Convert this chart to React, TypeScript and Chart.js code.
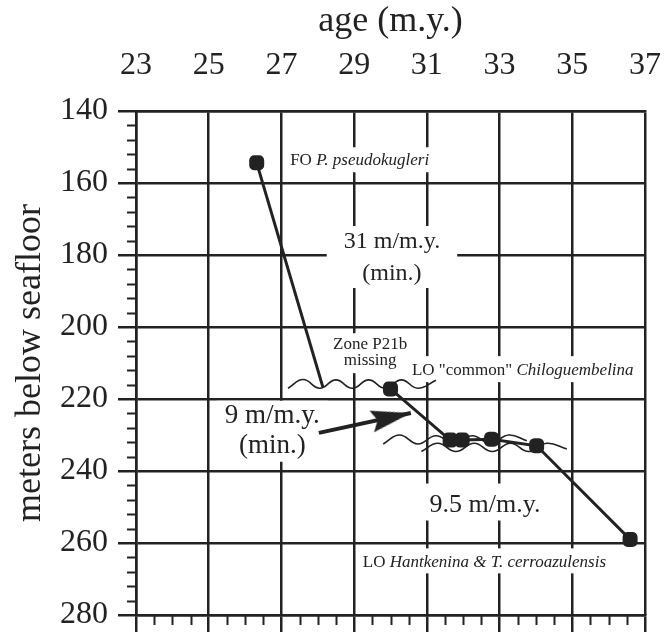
import React, { useEffect, useRef } from 'react';
import { Chart, registerables } from 'chart.js';

Chart.register(...registerables);

// ---------- data ----------
const ageTicks = [23, 25, 27, 29, 31, 33, 35, 37];
const depthTicks = [140, 160, 180, 200, 220, 240, 260, 280];
const ageMinorStep = 0.5;
const depthMinorStep = 4;

// upper segment: FO P. pseudokugleri down to the hiatus
const segAAges = [26.32, 28.14];
const segADepths = [154.4, 216.7];

// lower segment: LO "common" Chiloguembelina ... LO Hantkenina
const segBAges = [30.0, 31.64, 31.97, 32.78, 34.02, 36.59];
const segBDepths = [217.2, 231.4, 231.4, 231.2, 233.0, 259.0];

// hiatus (wavy) lines
const waveUAges = [27.18, 27.6, 28.05, 28.5, 28.95, 29.4, 29.85, 30.3, 30.75, 31.25];
const waveUDepths = [217.0, 214.6, 217.0, 214.7, 217.0, 214.7, 217.0, 214.7, 217.0, 214.8];
const waveLAAges = [29.8, 30.25, 30.75, 31.25, 31.75, 32.25, 32.75, 33.25, 33.75];
const waveLADepths = [232.5, 230.0, 232.5, 230.2, 232.3, 230.2, 232.3, 230.0, 231.6];
const waveLBAges = [30.85, 31.3, 31.8, 32.3, 32.8, 33.3, 33.8, 34.3, 34.85];
const waveLBDepths = [234.6, 232.3, 234.6, 232.3, 234.6, 232.3, 234.6, 232.3, 233.9];

// arrow pointing at the 9 m/m.y. segment
const arrowAges = [28.03, 30.56];
const arrowDepths = [229.4, 223.9];

// ---------- styling ----------
const INK = '#222222';
const FONT = "'Liberation Serif', 'Times New Roman', serif";

type Run = [string, boolean];
interface Note {
  age: number;
  depth: number;
  align: 'left' | 'center';
  size: number;
  gap: number;
  lines: Run[][];
  pad: [number, number, number, number];
}

const notes: Note[] = [
  { age: 27.24, depth: 155.0, align: 'left', size: 17, gap: 0, lines: [[['FO ', false], ['P. pseudokugleri', true]]], pad: [3, 5, 5, 3] },
  { age: 30.04, depth: 178.05, align: 'center', size: 24, gap: 32, lines: [[['31 m/m.y.', false]], [['(min.)', false]]], pad: [17, 4, 17, 2] },
  { age: 29.44, depth: 206.1, align: 'center', size: 17, gap: 16, lines: [[['Zone P21b', false]], [['missing', false]]], pad: [4, 3, 4, 4] },
  { age: 30.59, depth: 213.3, align: 'left', size: 17, gap: 0, lines: [[['LO "common" ', false], ['Chiloguembelina', true]]], pad: [2, 6, 6, 3] },
  { age: 26.75, depth: 226.67, align: 'center', size: 27, gap: 30, lines: [[['9 m/m.y.', false]], [['(min.)', false]]], pad: [8, 2, 8, 2] },
  { age: 32.6, depth: 251.4, align: 'center', size: 26, gap: 0, lines: [[['9.5 m/m.y.', false]]], pad: [10, 9, 10, 2] },
  { age: 29.24, depth: 266.7, align: 'left', size: 17, gap: 0, lines: [[['LO ', false], ['Hantkenina & T. cerroazulensis', true]]], pad: [3, 6, 3, 2] },
];

function runFont(size: number, italic: boolean) {
  return `${italic ? 'italic ' : ''}${size}px ${FONT}`;
}

const notesPlugin = {
  id: 'notes',
  beforeDatasetsDraw(chart: any) {
    const { ctx } = chart;
    const xs = chart.scales.x;
    const ys = chart.scales.y;
    ctx.save();
    for (const n of notes) {
      const px = xs.getPixelForValue(n.age);
      const py = ys.getPixelForValue(n.depth);
      const widths = n.lines.map((line) =>
        line.reduce((w, [t, it]) => {
          ctx.font = runFont(n.size, it);
          return w + ctx.measureText(t).width;
        }, 0)
      );
      const maxW = Math.max(...widths);
      const boxL = n.align === 'left' ? px : px - maxW / 2;
      const top = py - n.size * 0.75 - n.pad[1];
      const bottom = py + (n.lines.length - 1) * n.gap + n.size * 0.25 + n.pad[3];
      ctx.fillStyle = '#ffffff';
      ctx.fillRect(boxL - n.pad[0], top, maxW + n.pad[0] + n.pad[2], bottom - top);
      ctx.fillStyle = INK;
      ctx.textBaseline = 'alphabetic';
      ctx.textAlign = 'left';
      n.lines.forEach((line, i) => {
        let x = n.align === 'left' ? px : px - widths[i] / 2;
        const y = py + i * n.gap;
        for (const [t, it] of line) {
          ctx.font = runFont(n.size, it);
          ctx.fillText(t, x, y);
          x += ctx.measureText(t).width;
        }
      });
    }
    ctx.restore();
  },
};

const minorTicksPlugin = {
  id: 'minorTicks',
  afterDatasetsDraw(chart: any) {
    const { ctx, chartArea } = chart;
    const xs = chart.scales.x;
    const ys = chart.scales.y;
    ctx.save();
    ctx.strokeStyle = INK;
    ctx.lineWidth = 2;
    ctx.beginPath();
    const d0 = depthTicks[0];
    const d1 = depthTicks[depthTicks.length - 1];
    for (let v = d0 + depthMinorStep; v < d1; v += depthMinorStep) {
      if ((v - d0) % 20 === 0) continue;
      const y = Math.round(ys.getPixelForValue(v)) + 0.5;
      ctx.moveTo(chartArea.left - 9, y);
      ctx.lineTo(chartArea.left, y);
    }
    const a0 = ageTicks[0];
    const a1 = ageTicks[ageTicks.length - 1];
    for (let a = a0 + ageMinorStep; a < a1; a += ageMinorStep) {
      if (Math.abs(((a - a0) % 2)) < 1e-6) continue;
      const x = Math.round(xs.getPixelForValue(a)) + 0.5;
      ctx.moveTo(x, chartArea.bottom);
      ctx.lineTo(x, chartArea.bottom + 10);
    }
    ctx.stroke();
    ctx.restore();
  },
};

function makeArrowHead(len: number, wid: number) {
  const c = document.createElement('canvas');
  c.width = len * 2;
  c.height = wid;
  const g = c.getContext('2d')!;
  g.fillStyle = INK;
  g.beginPath();
  g.moveTo(0, 0);
  g.lineTo(len, wid / 2);
  g.lineTo(0, wid);
  g.lineTo(6, wid / 2);
  g.closePath();
  g.fill();
  return c;
}

const pts = (xs: number[], ys: number[]) => xs.map((x, i) => ({ x, y: ys[i] }));

export default function App() {
  const ref = useRef<HTMLCanvasElement>(null);

  useEffect(() => {
    if (!ref.current) return;
    const head = makeArrowHead(40, 22);
    const fitAxis = (w?: number, h?: number) => (s: any) => {
      if (w !== undefined) s.width = w;
      if (h !== undefined) s.height = h;
      s.paddingLeft = 0;
      s.paddingRight = 0;
      s.paddingTop = 0;
      s.paddingBottom = 0;
    };
    const setAgeTicks = (s: any) => {
      s.ticks = ageTicks.map((v) => ({ value: v }));
    };
    const lineDs = (data: any[], extra: any = {}) => ({
      data,
      showLine: true,
      borderColor: INK,
      backgroundColor: INK,
      pointBackgroundColor: INK,
      pointBorderColor: INK,
      borderWidth: 3,
      pointRadius: 0,
      pointHoverRadius: 0,
      tension: 0,
      ...extra,
    });

    const chart = new Chart(ref.current, {
      type: 'scatter',
      data: {
        datasets: [
          lineDs(pts(waveUAges, waveUDepths), { borderWidth: 1.6, tension: 0.45 }),
          lineDs(pts(waveLAAges, waveLADepths), { borderWidth: 1.6, tension: 0.45 }),
          lineDs(pts(waveLBAges, waveLBDepths), { borderWidth: 1.6, tension: 0.45 }),
          lineDs(pts(segAAges, segADepths), {
            pointRadius: [7, 0],
            pointStyle: 'rectRounded',
          }),
          lineDs(pts(segBAges, segBDepths), {
            pointRadius: 7,
            pointStyle: 'rectRounded',
          }),
          lineDs(pts(arrowAges, arrowDepths), {
            borderWidth: 4,
            pointRadius: [0, 5],
            pointStyle: [false, head],
            pointRotation: (c: any) => {
              const xs = c.chart.scales.x;
              const ys = c.chart.scales.y;
              if (!xs || !ys) return 0;
              const dx = xs.getPixelForValue(arrowAges[1]) - xs.getPixelForValue(arrowAges[0]);
              const dy = ys.getPixelForValue(arrowDepths[1]) - ys.getPixelForValue(arrowDepths[0]);
              return (Math.atan2(dy, dx) * 180) / Math.PI;
            },
          }),
        ],
      },
      options: {
        animation: false,
        responsive: true,
        maintainAspectRatio: false,
        layout: { padding: { left: 0, right: 26, top: 0, bottom: 0 } },
        plugins: { legend: { display: false }, tooltip: { enabled: false } },
        scales: {
          x: {
            type: 'linear',
            position: 'top',
            min: ageTicks[0],
            max: ageTicks[ageTicks.length - 1],
            afterBuildTicks: setAgeTicks,
            afterFit: fitAxis(undefined, 111),
            grid: { color: INK, lineWidth: 2.5, drawTicks: false, tickLength: 0 },
            border: { display: true, color: INK, width: 2.5 },
            ticks: {
              color: INK,
              font: { family: FONT, size: 32, lineHeight: 1.2 },
              padding: 26,
              maxRotation: 0,
              autoSkip: false,
            },
            title: {
              display: true,
              text: 'age (m.y.)',
              color: INK,
              font: { family: FONT, size: 36, lineHeight: 1.2 },
              padding: { top: 0, bottom: 0 },
            },
          },
          x2: {
            type: 'linear',
            position: 'bottom',
            min: ageTicks[0],
            max: ageTicks[ageTicks.length - 1],
            afterBuildTicks: setAgeTicks,
            afterFit: fitAxis(undefined, 17),
            grid: { color: INK, lineWidth: 2.5, drawOnChartArea: false, drawTicks: true, tickLength: 20 },
            border: { display: true, color: INK, width: 2.5 },
            ticks: { display: false },
          },
          y: {
            type: 'linear',
            position: 'left',
            reverse: true,
            min: depthTicks[0],
            max: depthTicks[depthTicks.length - 1],
            afterBuildTicks: (s: any) => {
              s.ticks = depthTicks.map((v) => ({ value: v }));
            },
            afterFit: fitAxis(136, undefined),
            grid: { color: INK, lineWidth: 2.5, drawTicks: true, tickLength: 18 },
            border: { display: true, color: INK, width: 2.5 },
            ticks: {
              color: INK,
              font: { family: FONT, size: 32, lineHeight: 1.0 },
              padding: 10,
              autoSkip: false,
            },
            title: {
              display: true,
              text: 'meters below seafloor',
              color: INK,
              font: { family: FONT, size: 36, lineHeight: 1.2 },
              padding: { top: 9, bottom: 0 },
            },
          },
        },
      },
      plugins: [notesPlugin, minorTicksPlugin],
    } as any);

    return () => chart.destroy();
  }, []);

  return (
    <div style={{ position: 'absolute', left: 0, top: 0, width: 671, height: 632, background: '#fff' }}>
      <canvas ref={ref} />
    </div>
  );
}
